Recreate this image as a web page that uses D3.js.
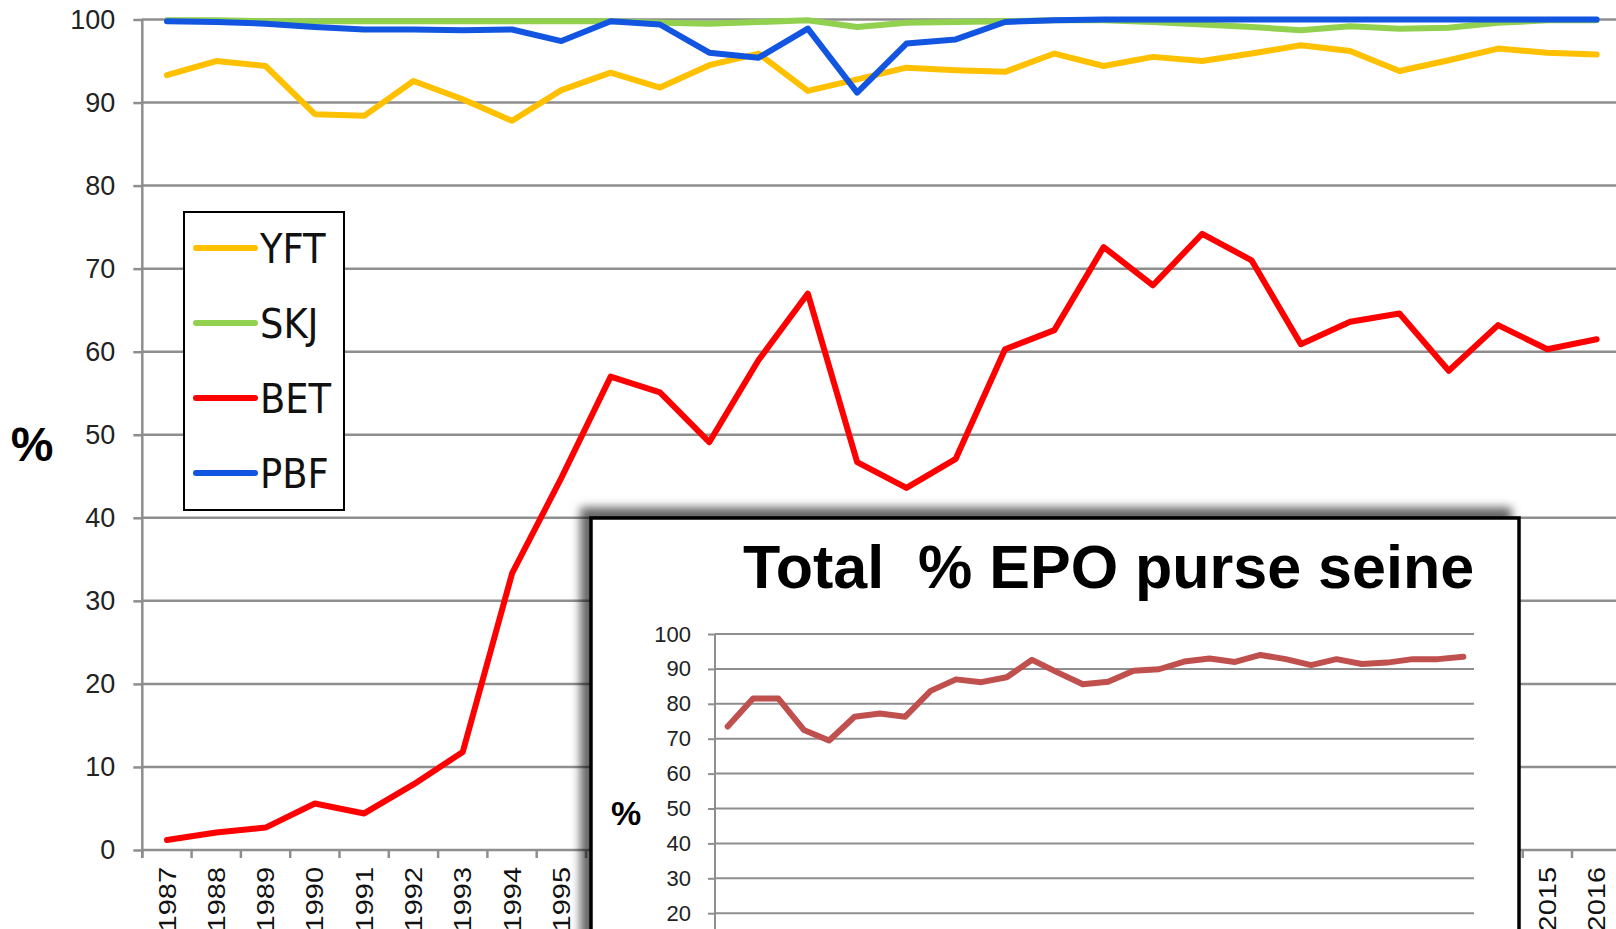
<!DOCTYPE html>
<html>
<head>
<meta charset="utf-8">
<script src="https://cdn.jsdelivr.net/npm/d3@7"></script>
<style>
  body { margin: 0; background: #fff; }
  svg { display: block; }
</style>
</head>
<body>
<svg id="chart" width="1616" height="929"></svg>
<script>
var years = ["1987","1988","1989","1990","1991","1992","1993","1994","1995","1996",
             "1997","1998","1999","2000","2001","2002","2003","2004","2005","2006",
             "2007","2008","2009","2010","2011","2012","2013","2014","2015","2016"];

var yft = [93.3, 95.0, 94.4, 88.6, 88.4, 92.6, 90.4, 87.8, 91.5, 93.6,
           91.8, 94.5, 95.9, 91.4, 92.8, 94.2, 93.9, 93.7, 95.9, 94.4,
           95.5, 95.0, 95.9, 96.9, 96.2, 93.8, 95.1, 96.5, 96.0, 95.8];
var skj = [99.9, 99.9, 99.8, 99.8, 99.8, 99.8, 99.8, 99.8, 99.8, 99.8,
           99.6, 99.5, 99.7, 99.9, 99.1, 99.6, 99.7, 99.8, 99.9, 99.9,
           99.7, 99.4, 99.1, 98.7, 99.2, 98.9, 99.0, 99.6, 99.9, 99.9];
var bet = [1.2, 2.1, 2.7, 5.6, 4.4, 7.9, 11.8, 33.3, 44.8, 57.0,
           55.1, 49.1, 59.0, 67.0, 46.7, 43.6, 47.1, 60.3, 62.6, 72.6,
           68.0, 74.2, 71.0, 60.9, 63.6, 64.6, 57.7, 63.2, 60.3, 61.5];
var pbf = [99.8, 99.7, 99.5, 99.1, 98.8, 98.8, 98.7, 98.8, 97.4, 99.8,
           99.4, 96.0, 95.4, 98.9, 91.2, 97.1, 97.6, 99.7, 99.9, 100,
           100, 100, 100, 100, 100, 100, 100, 100, 100, 100];

var totalEpo = [73.5, 81.5, 81.5, 72.5, 69.5, 76.3, 77.2, 76.3, 83.7, 87.0,
                86.2, 87.6, 92.6, 89.0, 85.6, 86.3, 89.5, 89.9, 92.1, 93.0,
                92.0, 94.0, 92.8, 91.1, 92.8, 91.4, 91.8, 92.8, 92.8, 93.5];

var seriesNames = ["YFT", "SKJ", "BET", "PBF"];
var seriesColors = ["#ffc000", "#92d050", "#ff0000", "#1155e0"];
var yTicks = [0, 10, 20, 30, 40, 50, 60, 70, 80, 90, 100];
var insetTicks = [20, 30, 40, 50, 60, 70, 80, 90, 100];
var insetTitle = "Total  % EPO purse seine";

var svg = d3.select("#chart");
var W = +svg.attr("width");

// filter for the inset shadow
var defs = svg.append("defs");
defs.append("filter")
    .attr("id", "shadow")
    .attr("x", "-10%").attr("y", "-20%")
    .attr("width", "120%").attr("height", "140%")
  .append("feDropShadow")
    .attr("dx", -9).attr("dy", -9)
    .attr("stdDeviation", 5)
    .attr("flood-color", "#000")
    .attr("flood-opacity", 0.6);

// ---- main chart ----
var x = d3.scaleBand().domain(years).range([142.3, 142.3 + 30 * 49.3]).padding(0);
var y = d3.scaleLinear().domain([0, 100]).range([850, 19.5]);

var main = svg.append("g");

main.selectAll(".grid")
  .data(yTicks.slice(1))
  .enter().append("line")
    .attr("x1", 142).attr("x2", W)
    .attr("y1", d => y(d)).attr("y2", d => y(d))
    .attr("stroke", "#8e8e8e").attr("stroke-width", 2.5);

var yAxis = main.append("g")
    .attr("transform", "translate(142.3,0)")
    .call(d3.axisLeft(y).tickValues(yTicks).tickSize(9).tickPadding(18));
yAxis.select(".domain").attr("stroke", "#8e8e8e").attr("stroke-width", 2.5)
    .attr("d", "M0," + y(100) + "V" + (y(0) + 8));
yAxis.selectAll(".tick line").attr("stroke", "#8e8e8e").attr("stroke-width", 2.5);
yAxis.selectAll(".tick text")
    .attr("font-family", "'Liberation Sans', Arial, sans-serif")
    .attr("font-size", 27)
    .attr("fill", "#222");

// x axis line + boundary ticks
main.append("line")
    .attr("x1", 142.3).attr("x2", W)
    .attr("y1", y(0)).attr("y2", y(0))
    .attr("stroke", "#8e8e8e").attr("stroke-width", 2.5);
main.selectAll(".xtick")
  .data(years)
  .enter().append("line")
    .attr("x1", d => x(d)).attr("x2", d => x(d))
    .attr("y1", y(0)).attr("y2", y(0) + 8)
    .attr("stroke", "#8e8e8e").attr("stroke-width", 2.5);

var xAxis = main.append("g")
    .attr("transform", "translate(0," + y(0) + ")")
    .call(d3.axisBottom(x).tickSize(0));
xAxis.select(".domain").remove();
xAxis.selectAll(".tick text")
    .attr("transform", "scale(0.85,1) rotate(-90)")
    .attr("x", -17).attr("y", 0).attr("dy", "0.35em")
    .attr("text-anchor", "end")
    .attr("font-family", "'Liberation Sans', Arial, sans-serif")
    .attr("font-size", 29)
    .attr("fill", "#111");

main.append("text")
    .attr("x", 32).attr("y", 461)
    .attr("text-anchor", "middle")
    .attr("font-family", "'Liberation Sans', Arial, sans-serif")
    .attr("font-weight", "bold")
    .attr("font-size", 48)
    .text("%");

var line = d3.line()
    .x((d, i) => x(years[i]) + x.bandwidth() / 2)
    .y(d => y(d));

var allSeries = [yft, skj, bet, pbf];
main.selectAll(".series")
  .data(allSeries)
  .enter().append("path")
    .attr("class", "series")
    .attr("fill", "none")
    .attr("stroke", (d, i) => seriesColors[i])
    .attr("stroke-width", 6)
    .attr("stroke-linejoin", "round")
    .attr("stroke-linecap", "round")
    .attr("d", line);

// legend
var legend = main.append("g");
legend.append("rect")
    .attr("x", 184).attr("y", 212)
    .attr("width", 160).attr("height", 298)
    .attr("fill", "#fff").attr("stroke", "#000").attr("stroke-width", 2);
var legendY = d3.scalePoint().domain(seriesNames).range([248, 473]);
var item = legend.selectAll(".item")
  .data(seriesNames)
  .enter().append("g")
    .attr("transform", d => "translate(0," + legendY(d) + ")");
item.append("line")
    .attr("x1", 196).attr("x2", 255)
    .attr("stroke", (d, i) => seriesColors[i])
    .attr("stroke-width", 6)
    .attr("stroke-linecap", "round");
item.append("text")
    .attr("x", 260).attr("y", 15)
    .attr("font-family", "'Liberation Sans Narrow', 'DejaVu Sans Condensed', sans-serif")
    .attr("font-size", 41)
    .attr("fill", "#111")
    .text(d => d);

// ---- inset ----
var inset = svg.append("g");
inset.append("rect")
    .attr("x", 591).attr("y", 518)
    .attr("width", 928).attr("height", 500)
    .attr("fill", "#fff").attr("stroke", "#000").attr("stroke-width", 3.5)
    .attr("filter", "url(#shadow)");

inset.append("text")
    .attr("x", 743).attr("y", 588)
    .style("white-space", "pre")
    .attr("font-family", "'Liberation Sans', Arial, sans-serif")
    .attr("font-weight", "bold")
    .attr("font-size", 61)
    .attr("fill", "#000")
    .text(insetTitle);

var ix = d3.scaleBand().domain(years).range([715, 1476]).padding(0);
var iy = d3.scaleLinear().domain([0, 100]).range([983, 634]);

inset.selectAll(".igrid")
  .data(insetTicks)
  .enter().append("line")
    .attr("x1", 715).attr("x2", 1474)
    .attr("y1", d => iy(d)).attr("y2", d => iy(d))
    .attr("stroke", "#8e8e8e").attr("stroke-width", 2);

var iAxis = inset.append("g")
    .attr("transform", "translate(715,0)")
    .call(d3.axisLeft(iy).tickValues(insetTicks).tickSize(7).tickPadding(17));
iAxis.select(".domain").attr("stroke", "#8e8e8e").attr("stroke-width", 2)
    .attr("d", "M0," + iy(100) + "V" + 929);
iAxis.selectAll(".tick line").attr("stroke", "#8e8e8e").attr("stroke-width", 2);
iAxis.selectAll(".tick text")
    .attr("font-family", "'Liberation Sans', Arial, sans-serif")
    .attr("font-size", 22)
    .attr("fill", "#222");

inset.append("text")
    .attr("x", 626).attr("y", 825)
    .attr("text-anchor", "middle")
    .attr("font-family", "'Liberation Sans', Arial, sans-serif")
    .attr("font-weight", "bold")
    .attr("font-size", 34)
    .text("%");

var iline = d3.line()
    .x((d, i) => ix(years[i]) + ix.bandwidth() / 2)
    .y(d => iy(d));

inset.append("path")
    .datum(totalEpo)
    .attr("fill", "none")
    .attr("stroke", "#c0504d")
    .attr("stroke-width", 6)
    .attr("stroke-linejoin", "round")
    .attr("stroke-linecap", "round")
    .attr("d", iline);
</script>
</body>
</html>
